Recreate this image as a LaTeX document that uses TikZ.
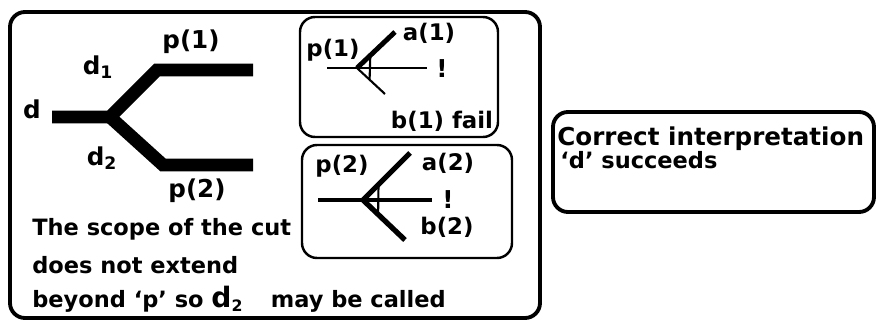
\documentclass[tikz,border=0pt]{standalone}
\usepackage{fontspec}
\setmainfont{DejaVu Sans}
\usepackage{tikz}
\usetikzlibrary{calc}

\begin{document}
\begin{tikzpicture}[x=0.02cm, y=-0.02cm,
    lbl/.style={font=\bfseries\fontsize{12.8}{15}\selectfont, inner sep=0pt},
    etq/.style={font=\bfseries\fontsize{14}{16}\selectfont, inner sep=0pt},
    chica/.style={font=\bfseries\fontsize{13}{15}\selectfont, inner sep=0pt},
    caja/.style={draw, line width=1.4pt, rounded corners=0.3cm},
    rama/.style={line width=0.26cm},
    fina/.style={line width=1.2pt}]
  \useasboundingbox (0,0) rectangle (877,321);

  % Marcos
  \draw[caja, line width=2.2pt] (10,12) rectangle (540,318);
  \draw[caja] (300,17) rectangle (498,137);
  \draw[caja] (302,145) rectangle (512,258);
  \draw[caja, line width=2.2pt] (553,112) rectangle (874,212);

  % Arbol d -> d1 / d2
  \coordinate (d0) at (52,117);
  \coordinate (dj) at (110,117);
  \coordinate (d1a) at (157,70);
  \coordinate (d1b) at (253,70);
  \coordinate (d2a) at (163,165);
  \coordinate (d2b) at (253,165);
  \draw[rama] (d0) -- (dj) -- (d1a) -- (d1b);
  \draw[rama] (dj) -- (d2a) -- (d2b);
  \node[etq] (d) at (32,109) {d};
  \node[etq] (d1) at (98,67) {d\textsubscript{1}};
  \node[etq] (d2) at (102,158) {d\textsubscript{2}};
  \node[etq] (p1) at (191,42) {p(1)};
  \node[etq] (p2) at (197,191) {p(2)};

  % Texto del corte
  \node[lbl, anchor=base west] (t1) at (32,235) {The scope of the cut};
  \node[lbl, anchor=base west] (t2) at (32,273) {does not extend};
  \node[lbl, anchor=base west] (t3) at (32,307)
    {beyond ‘p’ so {\fontsize{16}{16}\selectfont d}\textsubscript{2}\hspace{0.55cm}may be called};

  % Caja p(1): a(1) ! b(1) falla
  \coordinate (j1) at (357,68);
  \coordinate (h1a) at (327,68);
  \coordinate (h1b) at (427,68);
  \coordinate (u1) at (395,32);
  \coordinate (v1) at (385,94);
  \draw[line width=1.4pt] (h1a) -- (h1b);
  \draw[line width=2.8pt] (j1) -- (u1);
  \draw[fina] (j1) -- (v1);
  \draw[fina] ($(j1)!0.35!(u1)$) -- ($(j1)!0.45!(v1)$);
  \node[chica] (q1) at (333,50) {p(1)};
  \node[chica] (a1) at (429,33) {a(1)};
  \node[etq] (x1) at (442,69) {!};
  \node[chica] (b1) at (442,121) {b(1) fail};

  % Caja p(2): a(2) ! b(2)
  \coordinate (j2) at (363,200);
  \coordinate (h2a) at (318,200);
  \coordinate (h2b) at (432,200);
  \coordinate (u2) at (410,153);
  \coordinate (v2) at (405,240);
  \draw[line width=2pt] (h2a) -- (h2b);
  \draw[line width=3pt] (j2) -- (u2);
  \draw[line width=3pt] (j2) -- (v2);
  \draw[fina] ($(j2)!0.33!(u2)$) -- ($(j2)!0.36!(v2)$);
  \node[chica] (q2) at (342,166) {p(2)};
  \node[chica] (a2) at (448,163) {a(2)};
  \node[etq] (x2) at (448,200) {!};
  \node[chica] (b2) at (447,227) {b(2)};

  % Interpretacion correcta
  \node[lbl, font=\bfseries\fontsize{14}{16}\selectfont, anchor=base west] (c1) at (557,145) {Correct interpretation};
  \node[lbl, anchor=base west] (c2) at (560,168) {‘d’ succeeds};
\end{tikzpicture}
\end{document}
